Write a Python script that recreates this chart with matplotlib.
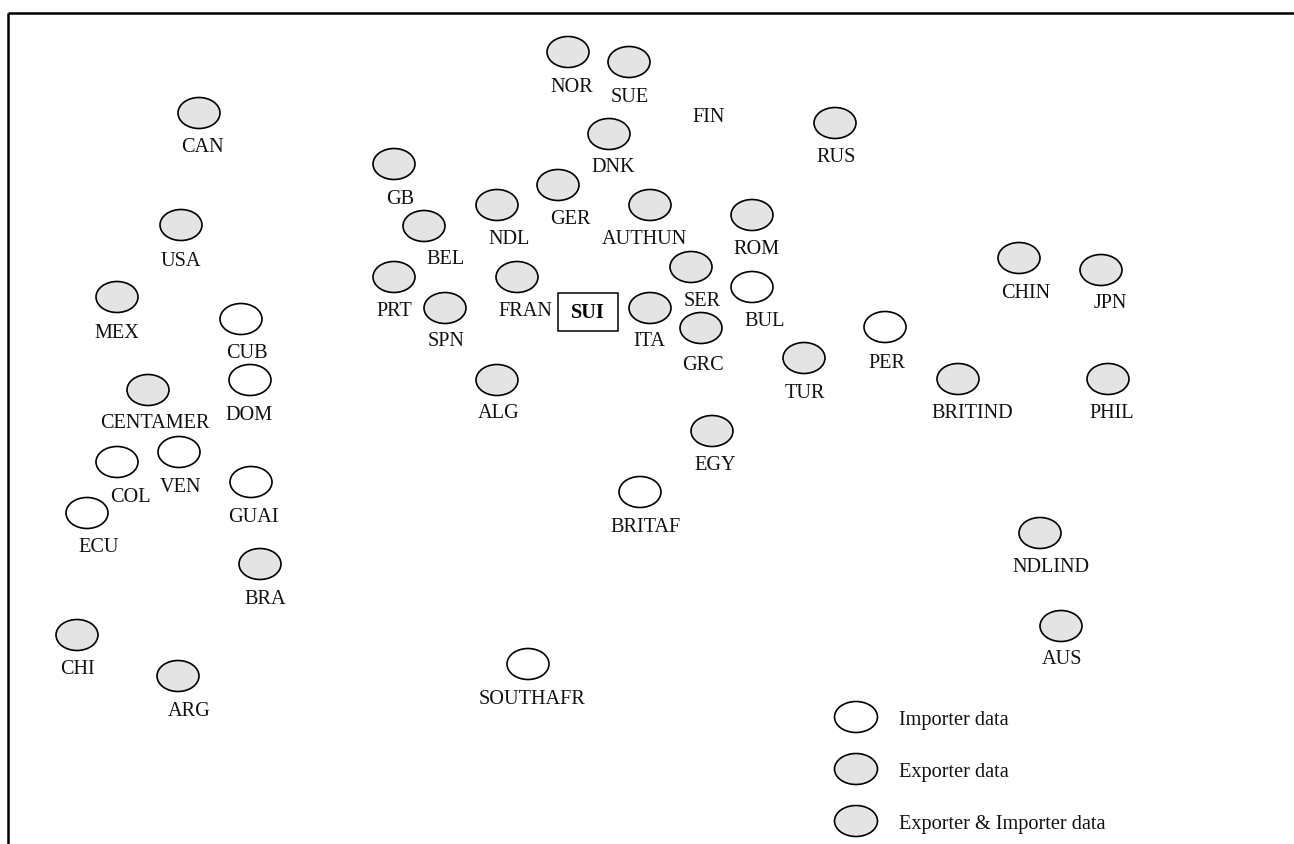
import matplotlib
matplotlib.use("Agg")
import matplotlib.pyplot as plt
from matplotlib.patches import Ellipse, Rectangle

plt.rcParams['font.family'] = ['Liberation Serif', 'DejaVu Serif']

# Country map: ellipse centres (pixel-like map coordinates) and data kind
names = ["NOR", "SUE", "RUS", "CAN", "DNK", "GB", "GER", "NDL", "AUTHUN", "BEL",
         "ROM", "USA", "PRT", "SPN", "FRAN", "ITA", "SER", "BUL", "GRC", "MEX",
         "CUB", "CHIN", "JPN", "PER", "TUR", "BRITIND", "PHIL", "ALG", "CENTAMER", "DOM",
         "EGY", "VEN", "GUAI", "ECU", "COL", "BRITAF", "NDLIND", "BRA", "AUS", "CHI",
         "SOUTHAFR", "ARG"]
ex = [568, 629, 835, 199, 609, 394, 558, 497, 650, 424,
      752, 181, 394, 445, 517, 650, 691, 752, 701, 117,
      241, 1019, 1101, 885, 804, 958, 1108, 497, 148, 250,
      712, 179, 251, 87, 117, 640, 1040, 260, 1061, 77,
      528, 178]
ey = [52, 62, 123, 113, 134, 164, 185, 205, 205, 226,
      215, 225, 277, 308, 277, 308, 267, 287, 328, 297,
      319, 258, 270, 327, 358, 379, 379, 380, 390, 380,
      431, 452, 482, 513, 462, 492, 533, 564, 626, 635,
      664, 676]
# label offsets relative to ellipse centre
ldx = [4, 1, 1, 3, 4, 6, 12, 12, -6, 22,
       5, 0, 0, 1, 8, -1, 11, 13, 2, 0,
       6, 7, 9, 2, 1, 14, 4, 2, 7, -1,
       3, 2, 2, 12, 13, 6, 11, 5, 1, 0,
       4, 11]
ldy = [35, 35, 35, 34, 34, 35, 34, 35, 35, 34,
       35, 37, 34, 34, 34, 34, 35, 35, 37, 36,
       35, 36, 34, 37, 35, 34, 34, 34, 34, 35,
       34, 35, 35, 35, 35, 35, 35, 36, 34, 35,
       35, 36]
kind = ["E", "E", "E", "E", "E", "E", "E", "E", "E", "E",
        "E", "E", "E", "E", "E", "E", "E", "I", "E", "E",
        "I", "E", "E", "I", "E", "E", "E", "E", "E", "I",
        "E", "I", "I", "I", "I", "I", "E", "E", "E", "E",
        "I", "E"]

label_only = ["FIN"]
label_only_xy = [(709, 117)]

centre_name = "SUI"
centre_xy = (588, 312)

legend_labels = ["Importer data", "Exporter data", "Exporter & Importer data"]
legend_kinds = ["I", "E", "EI"]

fills = {"I": "white", "E": "#e4e4e4", "EI": "#e4e4e4"}

W, H = 1294, 844
fig = plt.figure(figsize=(W / 100, H / 100), dpi=100)
ax = fig.add_axes([0, 0, 1, 1])
ax.set_xlim(0, W)
ax.set_ylim(H, 0)
ax.axis("off")

EW, EH = 42, 31
FS = 14.6

# frame (top and left)
ax.plot([7.5, W], [12.5, 12.5], color="black", lw=1.8, solid_capstyle="butt")
ax.plot([7.5, 7.5], [12.5, H], color="black", lw=1.8, solid_capstyle="butt")

for n, x, y, dx, dy, k in zip(names, ex, ey, ldx, ldy, kind):
    ax.add_patch(Ellipse((x, y), EW, EH, facecolor=fills[k], edgecolor="black", lw=1.2))
    ax.text(x + dx, y + dy, n, ha="center", va="center", fontsize=FS, color="#111111")

for n, (x, y) in zip(label_only, label_only_xy):
    ax.text(x, y, n, ha="center", va="center", fontsize=FS, color="#111111")

cx, cy = centre_xy
ax.add_patch(Rectangle((cx - 30, cy - 19), 60, 38, facecolor="white", edgecolor="black", lw=1.1))
ax.text(cx, cy + 1, centre_name, ha="center", va="center", fontsize=FS, fontweight="bold")

# legend
for i, (lab, k) in enumerate(zip(legend_labels, legend_kinds)):
    y = 717 + i * 52
    ax.add_patch(Ellipse((856, y), 43, 31, facecolor=fills[k], edgecolor="black", lw=1.2))
    ax.text(899, y + 3, lab, ha="left", va="center", fontsize=14.6, color="#111111")

fig.savefig("out.png", dpi=100)
